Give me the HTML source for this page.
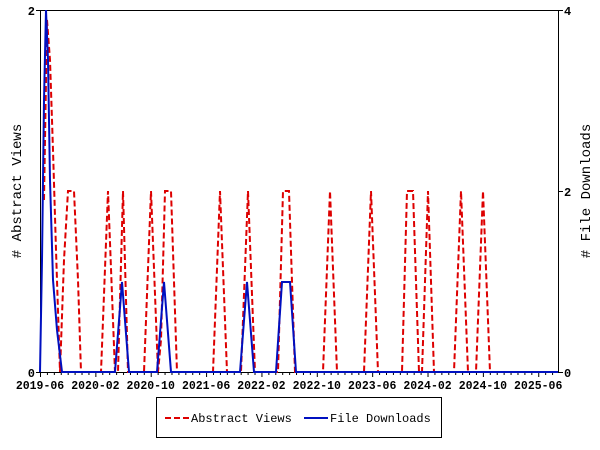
<!DOCTYPE html>
<html><head><style>body{margin:0;background:#fff}svg{display:block}text{font-family:"Liberation Mono","DejaVu Sans Mono",monospace}</style></head><body>
<svg width="600" height="450" viewBox="0 0 600 450" xmlns="http://www.w3.org/2000/svg">
<rect width="600" height="450" fill="#fff"/>
<g stroke="#000" stroke-width="1">
<line x1="40.5" y1="10" x2="40.5" y2="372"/>
<line x1="558.5" y1="10" x2="558.5" y2="372"/>
<line x1="40" y1="10.5" x2="559" y2="10.5"/>
<line x1="40" y1="372.5" x2="559" y2="372.5"/>
<line x1="36" y1="10.5" x2="40" y2="10.5"/><line x1="36" y1="372.5" x2="40" y2="372.5"/>
<line x1="559" y1="10.5" x2="563" y2="10.5"/><line x1="559" y1="191.5" x2="563" y2="191.5"/><line x1="559" y1="372.5" x2="563" y2="372.5"/>
</g>
<path stroke="#000" stroke-width="1" fill="none" d="M40.5 372v5M47.42 372v3M54.34 372v3M61.26 372v3M68.18 372v3M75.1 372v3M82.02 372v3M88.94 372v3M95.86 372v5M102.78 372v3M109.7 372v3M116.62 372v3M123.54 372v3M130.46 372v3M137.38 372v3M144.3 372v3M151.22 372v5M158.14 372v3M165.06 372v3M171.98 372v3M178.9 372v3M185.82 372v3M192.74 372v3M199.66 372v3M206.58 372v5M213.5 372v3M220.42 372v3M227.34 372v3M234.26 372v3M241.18 372v3M248.1 372v3M255.02 372v3M261.94 372v5M268.86 372v3M275.78 372v3M282.7 372v3M289.62 372v3M296.54 372v3M303.46 372v3M310.38 372v3M317.3 372v5M324.22 372v3M331.14 372v3M338.06 372v3M344.98 372v3M351.9 372v3M358.82 372v3M365.74 372v3M372.66 372v5M379.58 372v3M386.5 372v3M393.42 372v3M400.34 372v3M407.26 372v3M414.18 372v3M421.1 372v3M428.02 372v5M434.94 372v3M441.86 372v3M448.78 372v3M455.7 372v3M462.62 372v3M469.54 372v3M476.46 372v3M483.38 372v5M490.3 372v3M497.22 372v3M504.14 372v3M511.06 372v3M517.98 372v3M524.9 372v3M531.82 372v3M538.74 372v5M545.66 372v3M552.58 372v3"/>
<g font-size="12" font-weight="bold" fill="#000">
<text x="35" y="15" text-anchor="end">2</text>
<text x="35" y="377" text-anchor="end">0</text>
<text x="564" y="15">4</text>
<text x="564" y="196">2</text>
<text x="564" y="377">0</text>
</g>
<g font-size="11.5" font-weight="bold" text-anchor="middle">
<text x="40" y="389">2019-06</text>
<text x="95.4" y="389">2020-02</text>
<text x="150.7" y="389">2020-10</text>
<text x="206.1" y="389">2021-06</text>
<text x="261.4" y="389">2022-02</text>
<text x="316.8" y="389">2022-10</text>
<text x="372.2" y="389">2023-06</text>
<text x="427.5" y="389">2024-02</text>
<text x="482.9" y="389">2024-10</text>
<text x="538.2" y="389">2025-06</text>
</g>
<text transform="translate(21,191) rotate(-90)" font-size="14" text-anchor="middle"># Abstract Views</text>
<text transform="translate(590,191) rotate(-90)" font-size="14" text-anchor="middle"># File Downloads</text>
<polyline fill="none" stroke="#d00" stroke-width="2" stroke-dasharray="6,3" points="44,200 47,20 50,60 53,150 56,250 60,372 64,260 68,191 74,191 78,280 81,372 101,372 108,191 115,372 118,372 123,191 128,372 144,372 151,191 158,372 161,340 165,191 171,191 177,372 213,372 220,191 227,372 241,372 248,191 255,372 278,372 283,191 289,191 295,372 323,372 330,191 337,372 364,372 371,191 378,372 402,372 407,191 413,191 419,372 422,372 428,191 434,372 454,372 461,191 468,372 476,372 483,191 490,372 558,372"/>
<polyline fill="none" stroke="#0010c0" stroke-width="2" points="40,372 42,260 44,100 46,10 48,60 50,180 53,280 57,330 62,372 115,372 122,282 129,372 157,372 164,282 171,372 240,372 247,282 254,372 276,372 282,282 290,282 296,372 558,372"/>
<rect x="156.5" y="397.5" width="285" height="40" fill="none" stroke="#000"/>
<line x1="165" y1="418" x2="189" y2="418" stroke="#d00" stroke-width="2" stroke-dasharray="6,3"/>
<text x="191" y="422" font-size="12">Abstract Views</text>
<line x1="304" y1="418" x2="328" y2="418" stroke="#0010c0" stroke-width="2"/>
<text x="330" y="422" font-size="12">File Downloads</text>
</svg>
</body></html>
